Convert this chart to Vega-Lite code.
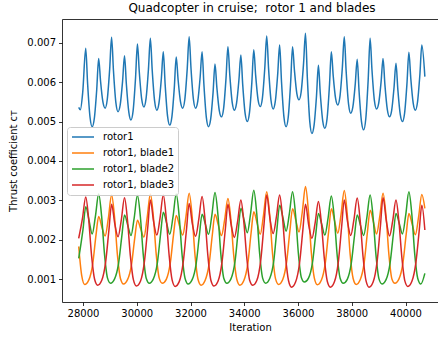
{
"$schema":"https://vega.github.io/schema/vega-lite/v6.json",
"width":376,"height":283,
"autosize":{"type":"none"},
"padding":{"left":62,"top":19,"right":0,"bottom":39},
"background":"white",
"title":{"text":"Quadcopter in cruise;\u00a0 rotor 1 and blades","font":"DejaVu Sans","fontSize":12,"fontWeight":"normal","color":"black","anchor":"middle","offset":4,"dx":2},
"config":{"view":{"stroke":null},"font":"DejaVu Sans"},
"resolve":{"axis":{"x":"independent"}},
"datasets":{
"rotor1":[
{"iter":27840,"ct":0.00536},{"iter":27900,"ct":0.00530},{"iter":27990,"ct":0.00575},
{"iter":28101,"ct":0.00686},{"iter":28171,"ct":0.00596},{"iter":28261,"ct":0.00511},{"iter":28341,"ct":0.00487},{"iter":28421,"ct":0.00508},{"iter":28511,"ct":0.00582},
{"iter":28582,"ct":0.00660},{"iter":28652,"ct":0.00603},{"iter":28742,"ct":0.00549},{"iter":28822,"ct":0.00534},{"iter":28902,"ct":0.00556},{"iter":28992,"ct":0.00633},
{"iter":29063,"ct":0.00714},{"iter":29133,"ct":0.00629},{"iter":29223,"ct":0.00548},{"iter":29303,"ct":0.00525},{"iter":29383,"ct":0.00542},{"iter":29473,"ct":0.00603},
{"iter":29544,"ct":0.00667},{"iter":29614,"ct":0.00594},{"iter":29704,"ct":0.00524},{"iter":29784,"ct":0.00504},{"iter":29864,"ct":0.00527},{"iter":29954,"ct":0.00610},
{"iter":30025,"ct":0.00697},{"iter":30095,"ct":0.00625},{"iter":30185,"ct":0.00556},{"iter":30265,"ct":0.00537},{"iter":30345,"ct":0.00558},{"iter":30435,"ct":0.00633},
{"iter":30506,"ct":0.00711},{"iter":30576,"ct":0.00629},{"iter":30666,"ct":0.00551},{"iter":30746,"ct":0.00529},{"iter":30826,"ct":0.00547},{"iter":30916,"ct":0.00610},
{"iter":30987,"ct":0.00677},{"iter":31057,"ct":0.00593},{"iter":31147,"ct":0.00513},{"iter":31227,"ct":0.00491},{"iter":31307,"ct":0.00512},{"iter":31397,"ct":0.00586},
{"iter":31468,"ct":0.00664},{"iter":31538,"ct":0.00606},{"iter":31628,"ct":0.00550},{"iter":31708,"ct":0.00534},{"iter":31788,"ct":0.00556},{"iter":31878,"ct":0.00634},
{"iter":31949,"ct":0.00715},{"iter":32019,"ct":0.00634},{"iter":32109,"ct":0.00556},{"iter":32189,"ct":0.00534},{"iter":32269,"ct":0.00551},{"iter":32359,"ct":0.00613},
{"iter":32430,"ct":0.00677},{"iter":32500,"ct":0.00592},{"iter":32590,"ct":0.00510},{"iter":32670,"ct":0.00487},{"iter":32750,"ct":0.00506},{"iter":32840,"ct":0.00574},
{"iter":32911,"ct":0.00646},{"iter":32981,"ct":0.00586},{"iter":33071,"ct":0.00528},{"iter":33151,"ct":0.00512},{"iter":33231,"ct":0.00533},{"iter":33321,"ct":0.00610},
{"iter":33392,"ct":0.00690},{"iter":33462,"ct":0.00618},{"iter":33552,"ct":0.00548},{"iter":33632,"ct":0.00529},{"iter":33712,"ct":0.00546},{"iter":33802,"ct":0.00606},
{"iter":33873,"ct":0.00669},{"iter":33943,"ct":0.00593},{"iter":34033,"ct":0.00520},{"iter":34113,"ct":0.00500},{"iter":34193,"ct":0.00522},{"iter":34283,"ct":0.00600},
{"iter":34354,"ct":0.00682},{"iter":34424,"ct":0.00617},{"iter":34514,"ct":0.00555},{"iter":34594,"ct":0.00538},{"iter":34674,"ct":0.00559},{"iter":34764,"ct":0.00636},
{"iter":34835,"ct":0.00717},{"iter":34905,"ct":0.00634},{"iter":34995,"ct":0.00554},{"iter":35075,"ct":0.00532},{"iter":35155,"ct":0.00551},{"iter":35245,"ct":0.00621},
{"iter":35316,"ct":0.00694},{"iter":35386,"ct":0.00601},{"iter":35476,"ct":0.00512},{"iter":35556,"ct":0.00487},{"iter":35636,"ct":0.00511},{"iter":35726,"ct":0.00599},
{"iter":35797,"ct":0.00690},{"iter":35867,"ct":0.00630},{"iter":35957,"ct":0.00571},{"iter":36037,"ct":0.00555},{"iter":36117,"ct":0.00575},{"iter":36207,"ct":0.00648},
{"iter":36278,"ct":0.00724},{"iter":36348,"ct":0.00610},{"iter":36438,"ct":0.00500},{"iter":36518,"ct":0.00470},{"iter":36598,"ct":0.00491},{"iter":36688,"ct":0.00565},
{"iter":36759,"ct":0.00643},{"iter":36829,"ct":0.00571},{"iter":36919,"ct":0.00502},{"iter":36999,"ct":0.00483},{"iter":37079,"ct":0.00506},{"iter":37169,"ct":0.00590},
{"iter":37240,"ct":0.00677},{"iter":37310,"ct":0.00616},{"iter":37400,"ct":0.00558},{"iter":37480,"ct":0.00542},{"iter":37560,"ct":0.00563},{"iter":37650,"ct":0.00637},
{"iter":37721,"ct":0.00715},{"iter":37791,"ct":0.00628},{"iter":37881,"ct":0.00544},{"iter":37961,"ct":0.00521},{"iter":38041,"ct":0.00537},{"iter":38131,"ct":0.00596},
{"iter":38202,"ct":0.00658},{"iter":38272,"ct":0.00577},{"iter":38362,"ct":0.00500},{"iter":38442,"ct":0.00479},{"iter":38522,"ct":0.00507},{"iter":38612,"ct":0.00607},
{"iter":38683,"ct":0.00711},{"iter":38753,"ct":0.00630},{"iter":38843,"ct":0.00553},{"iter":38923,"ct":0.00532},{"iter":39003,"ct":0.00547},{"iter":39093,"ct":0.00602},
{"iter":39164,"ct":0.00660},{"iter":39234,"ct":0.00593},{"iter":39324,"ct":0.00530},{"iter":39404,"ct":0.00512},{"iter":39484,"ct":0.00528},{"iter":39574,"ct":0.00587},
{"iter":39645,"ct":0.00648},{"iter":39715,"ct":0.00581},{"iter":39805,"ct":0.00518},{"iter":39885,"ct":0.00500},{"iter":39965,"ct":0.00521},{"iter":40055,"ct":0.00597},
{"iter":40126,"ct":0.00676},{"iter":40196,"ct":0.00610},{"iter":40286,"ct":0.00547},{"iter":40366,"ct":0.00529},{"iter":40446,"ct":0.00549},{"iter":40536,"ct":0.00620},
{"iter":40607,"ct":0.00694},{"iter":40720,"ct":0.00614}
],
"blade1":[
{"iter":27840,"ct":0.00183},{"iter":27950,"ct":0.00110},
{"iter":28063,"ct":0.00087},{"iter":28213,"ct":0.00098},{"iter":28363,"ct":0.00140},{"iter":28483,"ct":0.00212},{"iter":28583,"ct":0.00259},{"iter":28703,"ct":0.00232},{"iter":28823,"ct":0.00210},{"iter":28943,"ct":0.00255},{"iter":29063,"ct":0.00314},{"iter":29173,"ct":0.00258},{"iter":29283,"ct":0.00160},{"iter":29393,"ct":0.00102},
{"iter":29506,"ct":0.00088},{"iter":29656,"ct":0.00099},{"iter":29806,"ct":0.00138},{"iter":29926,"ct":0.00205},{"iter":30026,"ct":0.00250},{"iter":30146,"ct":0.00228},{"iter":30266,"ct":0.00207},{"iter":30386,"ct":0.00256},{"iter":30506,"ct":0.00316},{"iter":30616,"ct":0.00260},{"iter":30726,"ct":0.00162},{"iter":30836,"ct":0.00103},
{"iter":30949,"ct":0.00090},{"iter":31099,"ct":0.00100},{"iter":31249,"ct":0.00142},{"iter":31369,"ct":0.00214},{"iter":31469,"ct":0.00262},{"iter":31589,"ct":0.00236},{"iter":31709,"ct":0.00212},{"iter":31829,"ct":0.00258},{"iter":31949,"ct":0.00318},{"iter":32059,"ct":0.00261},{"iter":32169,"ct":0.00160},{"iter":32279,"ct":0.00100},
{"iter":32392,"ct":0.00085},{"iter":32542,"ct":0.00097},{"iter":32692,"ct":0.00139},{"iter":32812,"ct":0.00213},{"iter":32912,"ct":0.00265},{"iter":33032,"ct":0.00238},{"iter":33152,"ct":0.00211},{"iter":33272,"ct":0.00252},{"iter":33392,"ct":0.00305},{"iter":33502,"ct":0.00252},{"iter":33612,"ct":0.00158},{"iter":33722,"ct":0.00100},
{"iter":33835,"ct":0.00085},{"iter":33985,"ct":0.00097},{"iter":34135,"ct":0.00141},{"iter":34255,"ct":0.00218},{"iter":34355,"ct":0.00271},{"iter":34475,"ct":0.00243},{"iter":34595,"ct":0.00214},{"iter":34715,"ct":0.00262},{"iter":34835,"ct":0.00322},{"iter":34945,"ct":0.00264},{"iter":35055,"ct":0.00163},{"iter":35165,"ct":0.00101},
{"iter":35278,"ct":0.00087},{"iter":35428,"ct":0.00099},{"iter":35578,"ct":0.00145},{"iter":35698,"ct":0.00223},{"iter":35798,"ct":0.00279},{"iter":35918,"ct":0.00250},{"iter":36038,"ct":0.00220},{"iter":36158,"ct":0.00270},{"iter":36278,"ct":0.00335},{"iter":36388,"ct":0.00272},{"iter":36498,"ct":0.00166},{"iter":36608,"ct":0.00103},
{"iter":36721,"ct":0.00086},{"iter":36871,"ct":0.00098},{"iter":37021,"ct":0.00144},{"iter":37141,"ct":0.00222},{"iter":37241,"ct":0.00279},{"iter":37361,"ct":0.00248},{"iter":37481,"ct":0.00217},{"iter":37601,"ct":0.00264},{"iter":37721,"ct":0.00325},{"iter":37831,"ct":0.00266},{"iter":37941,"ct":0.00163},{"iter":38051,"ct":0.00102},
{"iter":38164,"ct":0.00087},{"iter":38314,"ct":0.00099},{"iter":38464,"ct":0.00143},{"iter":38584,"ct":0.00220},{"iter":38684,"ct":0.00275},{"iter":38804,"ct":0.00246},{"iter":38924,"ct":0.00215},{"iter":39044,"ct":0.00260},{"iter":39164,"ct":0.00318},{"iter":39274,"ct":0.00262},{"iter":39384,"ct":0.00161},{"iter":39494,"ct":0.00101},
{"iter":39607,"ct":0.00090},{"iter":39757,"ct":0.00101},{"iter":39907,"ct":0.00143},{"iter":40027,"ct":0.00215},{"iter":40127,"ct":0.00267},{"iter":40247,"ct":0.00240},{"iter":40367,"ct":0.00213},{"iter":40487,"ct":0.00258},{"iter":40607,"ct":0.00315},{"iter":40720,"ct":0.00280}
],
"blade2":[
{"iter":27840,"ct":0.00153},{"iter":28002,"ct":0.00228},{"iter":28102,"ct":0.00284},{"iter":28222,"ct":0.00250},{"iter":28342,"ct":0.00215},{"iter":28462,"ct":0.00260},{"iter":28582,"ct":0.00316},{"iter":28692,"ct":0.00260},{"iter":28802,"ct":0.00162},{"iter":28912,"ct":0.00103},
{"iter":29025,"ct":0.00090},{"iter":29175,"ct":0.00101},{"iter":29325,"ct":0.00141},{"iter":29445,"ct":0.00210},{"iter":29545,"ct":0.00263},{"iter":29665,"ct":0.00237},{"iter":29785,"ct":0.00211},{"iter":29905,"ct":0.00256},{"iter":30025,"ct":0.00313},{"iter":30135,"ct":0.00258},{"iter":30245,"ct":0.00160},{"iter":30355,"ct":0.00102},
{"iter":30468,"ct":0.00090},{"iter":30618,"ct":0.00101},{"iter":30768,"ct":0.00142},{"iter":30888,"ct":0.00216},{"iter":30988,"ct":0.00270},{"iter":31108,"ct":0.00243},{"iter":31228,"ct":0.00214},{"iter":31348,"ct":0.00258},{"iter":31468,"ct":0.00316},{"iter":31578,"ct":0.00260},{"iter":31688,"ct":0.00161},{"iter":31798,"ct":0.00102},
{"iter":31911,"ct":0.00088},{"iter":32061,"ct":0.00099},{"iter":32211,"ct":0.00140},{"iter":32331,"ct":0.00212},{"iter":32431,"ct":0.00265},{"iter":32551,"ct":0.00240},{"iter":32671,"ct":0.00214},{"iter":32791,"ct":0.00261},{"iter":32911,"ct":0.00320},{"iter":33021,"ct":0.00263},{"iter":33131,"ct":0.00162},{"iter":33241,"ct":0.00102},
{"iter":33354,"ct":0.00090},{"iter":33504,"ct":0.00101},{"iter":33654,"ct":0.00144},{"iter":33774,"ct":0.00222},{"iter":33874,"ct":0.00280},{"iter":33994,"ct":0.00250},{"iter":34114,"ct":0.00218},{"iter":34234,"ct":0.00266},{"iter":34354,"ct":0.00326},{"iter":34464,"ct":0.00267},{"iter":34574,"ct":0.00164},{"iter":34684,"ct":0.00103},
{"iter":34797,"ct":0.00090},{"iter":34947,"ct":0.00102},{"iter":35097,"ct":0.00146},{"iter":35217,"ct":0.00228},{"iter":35317,"ct":0.00288},{"iter":35437,"ct":0.00257},{"iter":35557,"ct":0.00222},{"iter":35677,"ct":0.00266},{"iter":35797,"ct":0.00322},{"iter":35907,"ct":0.00265},{"iter":36017,"ct":0.00163},{"iter":36127,"ct":0.00104},
{"iter":36240,"ct":0.00093},{"iter":36390,"ct":0.00103},{"iter":36540,"ct":0.00143},{"iter":36660,"ct":0.00214},{"iter":36760,"ct":0.00267},{"iter":36880,"ct":0.00240},{"iter":37000,"ct":0.00212},{"iter":37120,"ct":0.00256},{"iter":37240,"ct":0.00311},{"iter":37350,"ct":0.00256},{"iter":37460,"ct":0.00159},{"iter":37570,"ct":0.00102},
{"iter":37683,"ct":0.00090},{"iter":37833,"ct":0.00100},{"iter":37983,"ct":0.00141},{"iter":38103,"ct":0.00211},{"iter":38203,"ct":0.00263},{"iter":38323,"ct":0.00237},{"iter":38443,"ct":0.00211},{"iter":38563,"ct":0.00257},{"iter":38683,"ct":0.00314},{"iter":38793,"ct":0.00258},{"iter":38903,"ct":0.00160},{"iter":39013,"ct":0.00101},
{"iter":39126,"ct":0.00088},{"iter":39276,"ct":0.00099},{"iter":39426,"ct":0.00141},{"iter":39546,"ct":0.00213},{"iter":39646,"ct":0.00267},{"iter":39766,"ct":0.00242},{"iter":39886,"ct":0.00215},{"iter":40006,"ct":0.00262},{"iter":40126,"ct":0.00322},{"iter":40236,"ct":0.00264},{"iter":40346,"ct":0.00162},{"iter":40456,"ct":0.00102},
{"iter":40569,"ct":0.00088},{"iter":40720,"ct":0.00115}
],
"blade3":[
{"iter":27840,"ct":0.00204},{"iter":27981,"ct":0.00255},{"iter":28101,"ct":0.00309},{"iter":28211,"ct":0.00252},{"iter":28321,"ct":0.00158},{"iter":28431,"ct":0.00100},
{"iter":28544,"ct":0.00085},{"iter":28694,"ct":0.00097},{"iter":28844,"ct":0.00145},{"iter":28964,"ct":0.00225},{"iter":29064,"ct":0.00290},{"iter":29184,"ct":0.00240},{"iter":29304,"ct":0.00208},{"iter":29424,"ct":0.00250},{"iter":29544,"ct":0.00307},{"iter":29654,"ct":0.00250},{"iter":29764,"ct":0.00158},{"iter":29874,"ct":0.00099},
{"iter":29987,"ct":0.00083},{"iter":30137,"ct":0.00095},{"iter":30287,"ct":0.00146},{"iter":30407,"ct":0.00230},{"iter":30507,"ct":0.00301},{"iter":30627,"ct":0.00246},{"iter":30747,"ct":0.00212},{"iter":30867,"ct":0.00256},{"iter":30987,"ct":0.00314},{"iter":31097,"ct":0.00255},{"iter":31207,"ct":0.00159},{"iter":31317,"ct":0.00098},
{"iter":31430,"ct":0.00082},{"iter":31580,"ct":0.00094},{"iter":31730,"ct":0.00144},{"iter":31850,"ct":0.00226},{"iter":31950,"ct":0.00292},{"iter":32070,"ct":0.00240},{"iter":32190,"ct":0.00209},{"iter":32310,"ct":0.00253},{"iter":32430,"ct":0.00310},{"iter":32540,"ct":0.00252},{"iter":32650,"ct":0.00157},{"iter":32760,"ct":0.00097},
{"iter":32873,"ct":0.00083},{"iter":33023,"ct":0.00095},{"iter":33173,"ct":0.00144},{"iter":33293,"ct":0.00225},{"iter":33393,"ct":0.00290},{"iter":33513,"ct":0.00238},{"iter":33633,"ct":0.00206},{"iter":33753,"ct":0.00247},{"iter":33873,"ct":0.00301},{"iter":33983,"ct":0.00246},{"iter":34093,"ct":0.00155},{"iter":34203,"ct":0.00097},
{"iter":34316,"ct":0.00085},{"iter":34466,"ct":0.00097},{"iter":34616,"ct":0.00150},{"iter":34736,"ct":0.00240},{"iter":34836,"ct":0.00314},{"iter":34956,"ct":0.00254},{"iter":35076,"ct":0.00216},{"iter":35196,"ct":0.00258},{"iter":35316,"ct":0.00314},{"iter":35426,"ct":0.00255},{"iter":35536,"ct":0.00158},{"iter":35646,"ct":0.00097},
{"iter":35759,"ct":0.00080},{"iter":35909,"ct":0.00093},{"iter":36059,"ct":0.00142},{"iter":36179,"ct":0.00224},{"iter":36279,"ct":0.00290},{"iter":36399,"ct":0.00237},{"iter":36519,"ct":0.00204},{"iter":36639,"ct":0.00244},{"iter":36759,"ct":0.00297},{"iter":36869,"ct":0.00243},{"iter":36979,"ct":0.00153},{"iter":37089,"ct":0.00095},
{"iter":37202,"ct":0.00080},{"iter":37352,"ct":0.00093},{"iter":37502,"ct":0.00145},{"iter":37622,"ct":0.00232},{"iter":37722,"ct":0.00301},{"iter":37842,"ct":0.00246},{"iter":37962,"ct":0.00211},{"iter":38082,"ct":0.00252},{"iter":38202,"ct":0.00306},{"iter":38312,"ct":0.00250},{"iter":38422,"ct":0.00156},{"iter":38532,"ct":0.00096},
{"iter":38645,"ct":0.00080},{"iter":38795,"ct":0.00093},{"iter":38945,"ct":0.00146},{"iter":39065,"ct":0.00234},{"iter":39165,"ct":0.00307},{"iter":39285,"ct":0.00249},{"iter":39405,"ct":0.00210},{"iter":39525,"ct":0.00249},{"iter":39645,"ct":0.00301},{"iter":39755,"ct":0.00246},{"iter":39865,"ct":0.00155},{"iter":39975,"ct":0.00096},
{"iter":40088,"ct":0.00082},{"iter":40238,"ct":0.00095},{"iter":40388,"ct":0.00143},{"iter":40508,"ct":0.00222},{"iter":40608,"ct":0.00288},{"iter":40720,"ct":0.00225}
]
},
"layer":[
{"data":{"name":"rotor1"},"mark":{"type":"line","strokeWidth":1.5,"interpolate":"monotone"},
"encoding":{
"x":{"field":"iter","type":"quantitative","scale":{"domain":[27218,41209],"nice":false,"zero":false},
"axis":{"orient":"bottom","values":[28000,30000,32000,34000,36000,38000,40000],"format":"d","grid":false,"domainColor":"black","domainWidth":0.8,"tickColor":"black","tickWidth":0.8,"tickSize":3.5,"labelFont":"DejaVu Sans","labelFontSize":10,"labelColor":"black","labelPadding":3,"title":"Iteration","titleFont":"DejaVu Sans","titleFontSize":10,"titleFontWeight":"normal","titleColor":"black","titlePadding":4}},
"y":{"field":"ct","type":"quantitative","scale":{"domain":[0.000424,0.007601],"nice":false,"zero":false},
"axis":{"values":[0.001,0.002,0.003,0.004,0.005,0.006,0.007],"format":".3f","grid":false,"domainColor":"black","domainWidth":0.8,"tickColor":"black","tickWidth":0.8,"tickSize":3.5,"labelFont":"DejaVu Sans","labelFontSize":10,"labelColor":"black","labelPadding":3,"title":"Thrust coefficient cᴛ","titleFont":"DejaVu Sans","titleFontSize":10,"titleFontWeight":"normal","titleColor":"black","titlePadding":8}},
"color":{"datum":"rotor1","type":"nominal","scale":{"domain":["rotor1","rotor1, blade1","rotor1, blade2","rotor1, blade3"],"range":["#1f77b4","#ff7f0e","#2ca02c","#d62728"]},
"legend":{"title":null,"orient":"none","legendX":5,"legendY":108,"symbolType":"stroke","symbolSize":484,"symbolStrokeWidth":1.5,"clipHeight":12,"rowPadding":4,"labelFont":"DejaVu Sans","labelFontSize":10,"labelColor":"black","labelOffset":8,"padding":4,"strokeColor":"#cccccc","fillColor":"rgba(255,255,255,0.8)","cornerRadius":3}}
}},
{"data":{"name":"blade1"},"mark":{"type":"line","strokeWidth":1.5,"interpolate":"monotone"},
"encoding":{
"x":{"field":"iter","type":"quantitative","axis":{"orient":"top","labels":false,"ticks":false,"title":null,"grid":false,"domainColor":"black","domainWidth":0.8}},
"y":{"field":"ct","type":"quantitative"},
"color":{"datum":"rotor1, blade1","type":"nominal"}}},
{"data":{"name":"blade2"},"mark":{"type":"line","strokeWidth":1.5,"interpolate":"monotone"},
"encoding":{
"x":{"field":"iter","type":"quantitative","axis":null},
"y":{"field":"ct","type":"quantitative"},
"color":{"datum":"rotor1, blade2","type":"nominal"}}},
{"data":{"name":"blade3"},"mark":{"type":"line","strokeWidth":1.5,"interpolate":"monotone"},
"encoding":{
"x":{"field":"iter","type":"quantitative","axis":null},
"y":{"field":"ct","type":"quantitative"},
"color":{"datum":"rotor1, blade3","type":"nominal"}}}
]
}
